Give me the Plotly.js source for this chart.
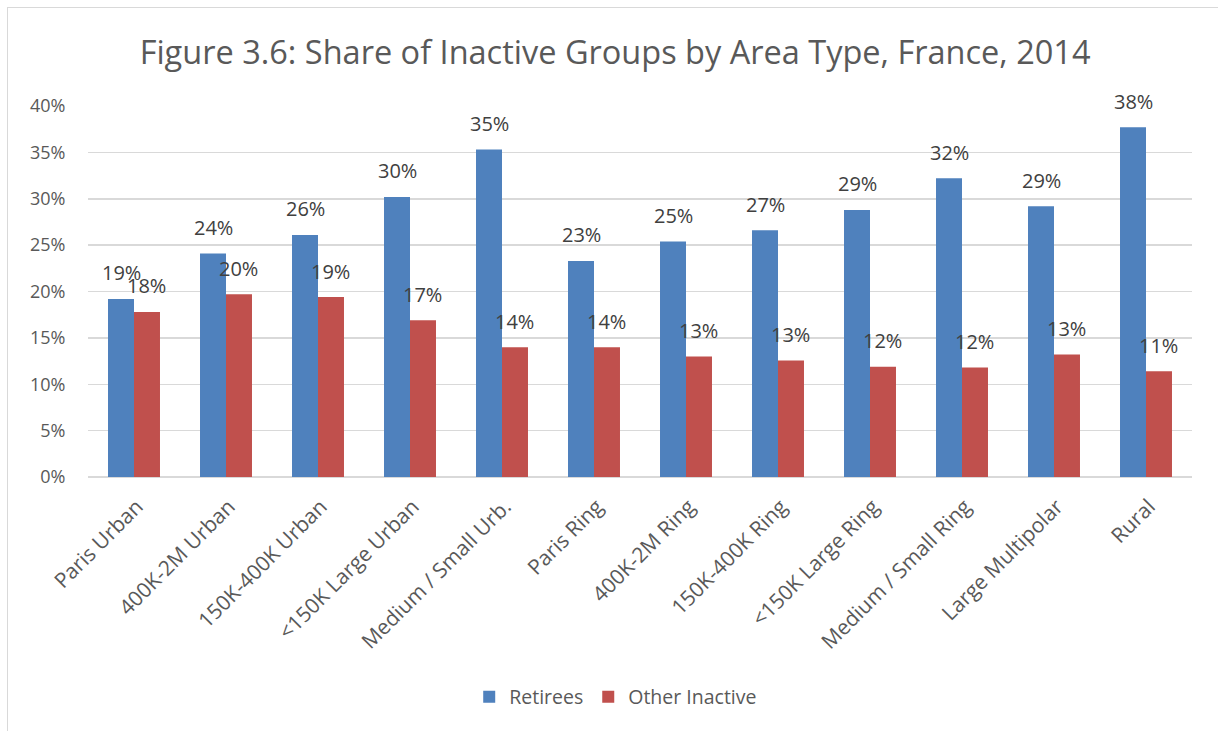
<!DOCTYPE html>
<html>
<head>
<meta charset="utf-8">
<script src="https://cdn.plot.ly/plotly-3.0.1.min.js"></script>
<style>
  html, body { margin: 0; padding: 0; background: #fff; }
  #frame { position: absolute; left: 7px; top: 7px; width: 1218px; height: 740px; border: 1px solid #d9d9d9; box-sizing: border-box; }
  #chart { position: absolute; left: 0; top: 0; width: 1218px; height: 731px; }
</style>
</head>
<body>
<div id="frame"></div>
<div id="chart"></div>
<script>
const categories = ["Paris Urban", "400K-2M Urban", "150K-400K Urban", "<150K Large Urban", "Medium / Small Urb.",
  "Paris Ring", "400K-2M Ring", "150K-400K Ring", "<150K Large Ring", "Medium / Small Ring", "Large Multipolar", "Rural"];
const retirees = [19.2, 24.1, 26.1, 30.2, 35.3, 23.3, 25.4, 26.6, 28.8, 32.2, 29.2, 37.7];
const otherInactive = [17.8, 19.7, 19.4, 16.9, 14.0, 14.0, 13.0, 12.55, 11.9, 11.8, 13.2, 11.4];
const seriesNames = ["Retirees", "Other Inactive"];
const colors = ["#4F81BD", "#C0504D"];

const FONT = "'Open Sans', 'Noto Sans', sans-serif";
const plotW = 1218 - 88 - 26;
const bargap = 0.435;
const barPx = plotW / categories.length * (1 - bargap) / 2;

const traces = [retirees, otherInactive].map((vals, i) => ({
  type: "bar", name: seriesNames[i], x: categories, y: vals,
  marker: { color: colors[i] }, hoverinfo: "skip"
}));

const annotations = [];
[retirees, otherInactive].forEach((vals, i) => {
  vals.forEach((v, j) => {
    annotations.push({
      x: categories[j], y: v, xref: "x", yref: "y",
      text: Math.round(v) + "%", showarrow: false,
      xshift: (i === 0 ? -1 : 1) * barPx / 2, yshift: 26, yanchor: "middle",
      font: { family: FONT, size: 20, color: "#404040" }
    });
  });
});

const layout = {
  width: 1218, height: 731,
  paper_bgcolor: "rgba(0,0,0,0)", plot_bgcolor: "rgba(0,0,0,0)",
  margin: { l: 88, r: 26, t: 106, b: 254 },
  title: { text: "Figure 3.6: Share of Inactive Groups by Area Type, France, 2014",
    font: { family: FONT, size: 32.5, color: "#595959" }, x: 0.505, xanchor: "center", y: 0.928, yanchor: "middle" },
  barmode: "group", bargap: bargap, bargroupgap: 0,
  showlegend: true,
  legend: { orientation: "h", x: 0.478, xanchor: "center", y: -0.593, yanchor: "middle",
    font: { family: FONT, size: 19.5, color: "#595959" }, itemwidth: 30, traceorder: "normal" },
  xaxis: { type: "category", tickangle: -45, tickfont: { family: FONT, size: 21, color: "#595959" },
    showline: false, showgrid: false, ticks: "outside", ticklen: 8, tickcolor: "rgba(0,0,0,0)",
    ticklabelshift: 3, automargin: false },
  yaxis: { range: [0, 40], dtick: 5, ticksuffix: "%", tickfont: { family: FONT, size: 18, color: "#595959" },
    gridcolor: "#d9d9d9", gridwidth: 1.5, zeroline: true, zerolinecolor: "#d9d9d9", zerolinewidth: 1.5,
    showline: false, ticks: "outside", ticklen: 18, tickcolor: "rgba(0,0,0,0)", automargin: false },
  annotations: annotations,
  font: { family: FONT }
};

Plotly.newPlot("chart", traces, layout, { displayModeBar: false, staticPlot: true });
</script>
</body>
</html>
